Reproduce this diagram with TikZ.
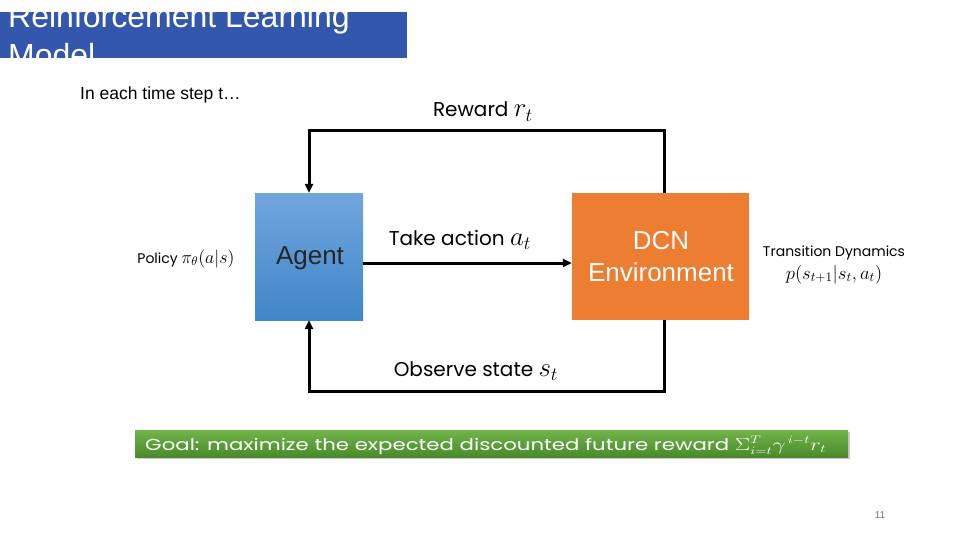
\documentclass[tikz,border=0pt]{standalone}
\usepackage{fontspec}
\setmainfont{Liberation Sans}
\newfontfamily\gothic{Poppins}
\usetikzlibrary{arrows.meta}
\definecolor{titleblue}{HTML}{3457AE}
\definecolor{agtop}{HTML}{72A6DE}
\definecolor{agbot}{HTML}{3F86C8}
\definecolor{envor}{HTML}{ED7D31}
\definecolor{gtop}{HTML}{70B44A}
\definecolor{gbot}{HTML}{4A8A2C}
\newcommand{\bm}[1]{\scalebox{1.3}{$#1$}}
\tikzset{
  loopline/.style={line width=3pt, black},
  arr/.style={loopline, -{Triangle[length=9pt,width=8pt]}},
  lbl/.style={font=\gothic\fontsize{20}{22}\selectfont, inner sep=0pt, anchor=base},
  small/.style={font=\gothic\fontsize{14}{16}\selectfont, inner sep=0pt, align=center},
}
\begin{document}
\begin{tikzpicture}[x=1pt,y=-1pt]
\useasboundingbox (0,0) rectangle (960,540);
\fill[white] (0,0) rectangle (960,540);
% title
\begin{scope}
\clip (0,12) rectangle (407,58);
\fill[titleblue] (0,12) rectangle (407,58);
\node[anchor=base west, inner sep=0pt, text=white, font=\fontsize{32}{38.5}\selectfont] (title1) at (8,28) {Reinforcement Learning};
\node[anchor=base west, inner sep=0pt, text=white, font=\fontsize{32}{38.5}\selectfont] (title2) at (8,67) {Model};
\end{scope}
\node[anchor=base west, inner sep=0pt, font=\fontsize{17.5}{19}\selectfont] (sub) at (80,100) {In each time step t\ldots};
% boxes
\node[draw=none, minimum width=108pt, minimum height=127pt, top color=agtop, bottom color=agbot, inner sep=0pt] (agent) at (309,256.5) {};
\node[inner sep=0pt, font=\fontsize{26}{28}\selectfont, text=black!85] (agentlbl) at (310,258) {Agent};
\node[draw=none, fill=envor, minimum width=177pt, minimum height=127pt, inner sep=0pt] (env) at (660.5,256.5) {};
\node[inner sep=0pt, align=center, font=\fontsize{26}{32}\selectfont, text=white] (envlbl) at (661,257) {DCN\\Environment};
% connectors
\coordinate (tl) at (309,131);
\coordinate (tr) at (664,131);
\coordinate (bl) at (309,391);
\coordinate (br) at (664,391);
\draw[arr] (env.north -| tr) -- (tr) -- (tl) -- (agent.north -| tl);
\draw[arr] (env.south -| br) -- (br) -- (bl) -- (agent.south -| bl);
\draw[arr] (agent.east |- 0,263) -- (env.west |- 0,263);
% labels
\node[lbl] (rew) at (483,117) {Reward \bm{r_t}};
\node[lbl] (act) at (460,245) {Take action \bm{a_t}};
\node[lbl] (obs) at (476,376) {Observe state \bm{s_t}};
\node[small, anchor=base] (pol) at (186,263) {Policy \scalebox{1.25}{$\pi_\theta(a|s)$}};
\node[small, anchor=base] (trans) at (834,256) {Transition Dynamics};
\node[small, anchor=base] (transp) at (834,279) {\scalebox{1.3}{$p(s_{t+1}|s_t,a_t)$}};
% goal bar
\fill[black!20] (137,432) rectangle (850,459);
\node[minimum width=713pt, minimum height=27pt, inner sep=0pt, top color=gtop, bottom color=gbot] (goal) at (491.5,443.5) {};
\node[anchor=base west, inner sep=0pt, text=white, font=\gothic\fontsize{16}{17}\selectfont] (goaltxt) at (145,450) {\scalebox{1.33}[1]{Goal: maximize the expected discounted future reward $\Sigma_{i=t}^{T}\gamma^{\,i-t}r_t$}};
\node[text=black!55, font=\fontsize{10}{12}\selectfont, inner sep=0pt] (pg) at (880,515) {11};
\end{tikzpicture}
\end{document}
